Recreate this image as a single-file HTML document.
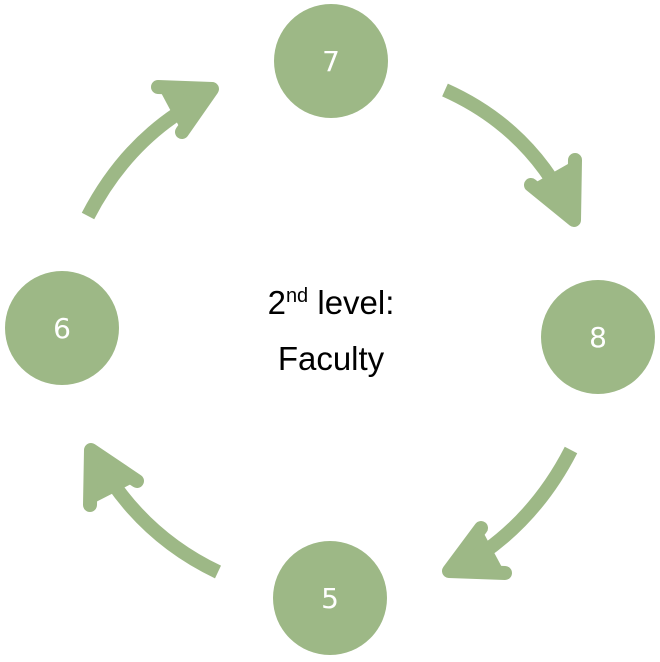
<!DOCTYPE html>
<html><head><meta charset="utf-8"><style>
html,body{margin:0;padding:0;background:#fff;}
svg{display:block}
</style></head><body>
<svg width="660" height="662" viewBox="0 0 660 662" xmlns="http://www.w3.org/2000/svg">
<g fill="#9db886">
<circle cx="331" cy="61" r="57"/>
<circle cx="598" cy="337" r="57"/>
<circle cx="330" cy="598" r="57"/>
<circle cx="62" cy="328" r="57"/>
</g>
<g fill="#fff" font-family="DejaVu Sans, sans-serif" font-size="28" text-anchor="middle">
<text x="331" y="71">7</text>
<text x="598" y="347">8</text>
<text x="330" y="608">5</text>
<text x="62" y="338">6</text>
</g>
<g fill="none" stroke="#9db886" stroke-width="14" stroke-linejoin="round">
<path d="M88,216 Q130,135 206,97" stroke-linecap="butt"/>
<path d="M445,90 Q530,128 570,212"/>
<path d="M571,450 Q530,530 455,570"/>
<path d="M218,572 Q140,535 97,458"/>
</g>
<g fill="#9db886" stroke="#9db886" stroke-width="14" stroke-linecap="round" stroke-linejoin="round">
<path d="M158,87 L212,89 L182,132"/>
<path d="M575,160 L574,220 L531,185"/>
<path d="M481,528 L449,571 L505,573"/>
<path d="M90,505 L91,450 L137,481"/>
</g>
<g fill="#000" font-family="Liberation Sans, sans-serif" font-size="33" text-anchor="middle">
<text x="331" y="314">2<tspan font-size="20" dy="-12">nd</tspan><tspan dy="12"> level:</tspan></text>
<text x="331" y="370">Faculty</text>
</g>
</svg>
</body></html>
